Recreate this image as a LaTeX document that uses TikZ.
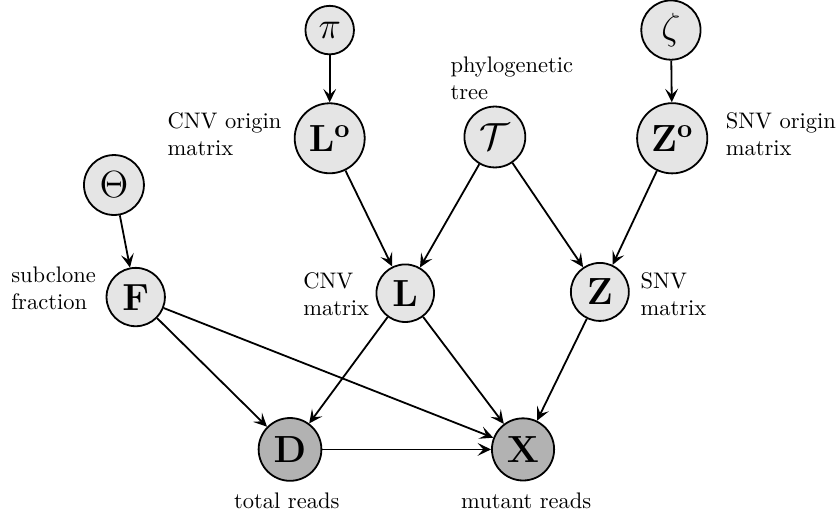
\documentclass[tikz,border=0pt]{standalone}
\usepackage{fix-cm}
\usepackage{amsmath}
\usepackage{tikz}
\usetikzlibrary{arrows.meta}

\begin{document}
\begin{tikzpicture}[
  latent/.style={circle,draw,thick,fill=gray!20,font=\fontsize{16.8}{20}\selectfont},
  observed/.style={latent,fill=gray!60},
  lbl/.style={inner sep=0pt,align=left,anchor=west},
  edge/.style={-{Stealth[length=2.1mm,width=2mm,inset=0.9mm]},thick}]
\useasboundingbox (0,0) rectangle (13.09,-8.06);
% hyper-parameters
\node[latent] (pi) at (5.15,-0.47) {$\pi$};
\node[latent] (zeta) at (10.48,-0.47) {$\zeta$};
\node[latent] (Theta) at (1.78,-2.89) {$\Theta$};
%
\node[latent] (Lo) at (5.15,-2.16) {$\mathbf{L^o}$};
\node[latent] (T) at (7.73,-2.14) {$\mathcal{T}$};
\node[latent] (Zo) at (10.50,-2.16) {$\mathbf{Z^o}$};
%
\node[latent] (F) at (2.12,-4.64) {$\mathbf{F}$};
\node[latent] (L) at (6.33,-4.58) {$\mathbf{L}$};
\node[latent] (Z) at (9.37,-4.56) {$\mathbf{Z}$};
%
\node[observed] (D) at (4.53,-7.02) {$\mathbf{D}$};
\node[observed] (X) at (8.17,-7.02) {$\mathbf{X}$};
% labels
\node[lbl] (Lolbl) at (2.61,-2.09) {CNV origin\\matrix};
\node[lbl] (Tlbl) at (7.03,-1.23) {phylogenetic\\tree};
\node[lbl] (Zolbl) at (11.33,-2.09) {SNV origin\\matrix};
\node[lbl] (Flbl) at (0.17,-4.51) {subclone\\fraction};
\node[lbl] (Llbl) at (4.73,-4.59) {CNV\\matrix};
\node[lbl] (Zlbl) at (10.0,-4.59) {SNV\\matrix};
\node[lbl,anchor=center] (Dlbl) at (4.48,-7.83) {total reads};
\node[lbl,anchor=center] (Xlbl) at (8.22,-7.83) {mutant reads};
%
\draw[edge] (pi) -- (Lo);
\draw[edge] (zeta) -- (Zo);
\draw[edge] (Theta) -- (F);
\draw[edge] (Lo) -- (L);
\draw[edge] (T) -- (L);
\draw[edge] (T) -- (Z);
\draw[edge] (Zo) -- (Z);
%
\draw[edge] (F) -- (D);
\draw[edge] (F) -- (X);
\draw[edge] (L) -- (D);
\draw[edge] (L) -- (X);
\draw[edge] (Z) -- (X);
\draw[edge] (D) -- (X);
\end{tikzpicture}
\end{document}
